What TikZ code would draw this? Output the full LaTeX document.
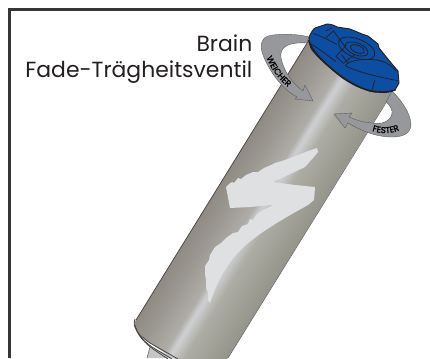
\documentclass[tikz,border=0pt]{standalone}
\usepackage{fontspec}
\setmainfont{Poppins}
\newfontfamily\arrowfont[FakeBold=1.3,LetterSpace=4]{Poppins}
\usetikzlibrary{decorations.text}
\definecolor{capblue}{HTML}{0B4EA2}
\definecolor{ink}{HTML}{231F20}
\definecolor{arrowgray}{HTML}{96989B}
\definecolor{logogray}{HTML}{DFE0E1}
\definecolor{cylA}{HTML}{8F8B84}
\definecolor{cylB}{HTML}{9C9892}
\definecolor{cylC}{HTML}{AFADA8}
\definecolor{cylD}{HTML}{CBCDCF}
\definecolor{cylE}{HTML}{AEADA5}
\definecolor{cylF}{HTML}{95948A}
\pgfdeclarehorizontalshading{cylshade}{100bp}{
 color(0bp)=(cylA);
 color(25bp)=(cylA);
 color(35bp)=(cylB);
 color(46bp)=(cylC);
 color(49bp)=(cylD);
 color(50bp)=(cylD);
 color(56bp)=(cylE);
 color(75bp)=(cylF);
 color(100bp)=(cylF)}
\tikzset{
 labeltext/.style={font=\fontsize{21.9}{24}\selectfont,text=ink,inner sep=0pt,anchor=base east},
 arrowshape/.style={fill=arrowgray,draw=ink!75,line width=0.35pt,line join=round},
 capline/.style={draw=ink,line width=0.7pt,line join=round},
 flangeline/.style={draw=ink!85,line width=0.8pt},
}
\begin{document}
\begin{tikzpicture}[x=1pt,y=-1pt]
\useasboundingbox (0,0) rectangle (430,358);
\fill[white] (0,0) rectangle (430,358);
\draw[ink!90,line width=2.6pt] (9.5,358) -- (9.5,9.5) -- (430,9.5);
\node[labeltext] (brain) at (252.5,52) {Brain};
\node[labeltext] (fade) at (252.5,78) {Fade-Trägheitsventil};

% cylinder body
\begin{scope}
 \clip (309,40) -- (134,322) .. controls (135,330) and (145,340) .. (150,343)
   -- (176,360) -- (228,360) -- (392,93) -- cycle;
 \begin{scope}[transform canvas={shift={(265.5,203.6)},rotate=-31.7}]
  \shade[shading=cylshade] (-49,-215) rectangle (49,215);
 \end{scope}
\end{scope}
\draw[ink!85,line width=0.7pt] (309,40) -- (136,320);
\draw[ink!70,line width=0.6pt] (392,93) -- (228,358);

% arrows
\path[arrowshape] (309,37) .. controls (298,34) and (280,33) .. (268,36)
  .. controls (260,39) and (260,47) .. (263,55)
  .. controls (268,68) and (280,88) .. (297,97)
  -- (295,99) -- (313,101) -- (305,85) -- (303,91)
  .. controls (293,84) and (284,72) .. (281,58)
  .. controls (279,46) and (290,42) .. (307,43) -- cycle;
\path[arrowshape] (392,91) .. controls (401,100) and (410,112) .. (411,124)
  .. controls (411,134) and (402,137) .. (392,137)
  .. controls (375,137) and (360,130) .. (348,123)
  -- (345,128) -- (334,114) -- (352,113) -- (349,117)
  .. controls (360,122) and (372,124) .. (382,123)
  .. controls (393,120) and (396,110) .. (386,102) -- cycle;

% arrow lettering
\path[decorate,decoration={text along path,text align=center,
   text={|\fontsize{8.6}{9}\arrowfont\color{black}|WEICHER}}]
   (263,46) .. controls (266,62) and (277,82) .. (298,94);
\path[decorate,decoration={text along path,text align=center,
   text={|\fontsize{8.6}{9}\arrowfont\color{black}|FESTER}}]
   (363,127) .. controls (378,135) and (394,136) .. (408,125);

% logo
\fill[logogray] (226,187) -- (229,184) -- (232,182) -- (234,183) -- (238,178) -- (241,179) -- (246,175)
  -- (253,172) -- (258,172) -- (264,168) -- (271,165) -- (275,163) -- (285,160)
  -- (298,155) -- (308,151) -- (317,148) -- (318,152) -- (313,158) -- (305,167)
  -- (288,175) -- (273,182) -- (295,185) -- (315,187) -- (314,200) -- (308,205)
  .. controls (290,215) and (270,226) .. (252,240)
  .. controls (235,253) and (220,272) .. (210,303)
  -- (208,300) -- (208,293) -- (206,288) -- (206,280) -- (205,274) -- (205,266)
  -- (209,260) -- (210,255) -- (215,247) -- (221,243) -- (226,238) -- (233,233)
  -- (238,232) -- (242,226) -- (248,224) -- (250,219) -- (253,220) -- (257,214)
  -- (263,210) -- (273,205) -- (250,207) -- (230,208) -- cycle;

% lower flange and stem
\fill[gray!45] (150,347) -- (147,358) -- (176,358) -- cycle;
\draw[ink!70,line width=0.6pt] (150,347) -- (147,358);
\draw[flangeline] (135,319) .. controls (132,326) and (137,334) .. (150,343) -- (178,359);
\draw[flangeline] (135,325) .. controls (136,332) and (142,340) .. (152,347) -- (172,359);
\draw[flangeline] (136,328) .. controls (138,336) and (146,344) .. (153,349) -- (168,359);

% blue cap
\path[fill=capblue,draw=ink,line width=0.9pt,line join=round]
 (309,37) .. controls (311,33) and (313,29) .. (315,28) -- (327,24)
 .. controls (332,24) and (335,26) .. (337,27) -- (350,29) -- (362,34) -- (368,36)
 -- (378,44) -- (379,48) -- (392,64) -- (398,71) -- (399,83) -- (395,90)
 .. controls (390,92) and (385,92) .. (380,92)
 .. controls (375,92) and (370,92) .. (367,90)
 .. controls (350,84) and (325,66) .. (312,50) .. controls (310,47) and (309,42) .. (309,37) -- cycle;
\draw[ink,line width=1.6pt,line cap=round] (309,41) .. controls (311,49) and (322,62) .. (343,78)
   .. controls (355,86) and (368,92) .. (380,92) .. controls (386,93) and (392,91) .. (395,90);
\begin{scope}[shift={(300,15)},x=0.3333pt,y=-0.3333pt]
 \draw[capline] (40,55) -- (80,72) -- (110,88);
 \draw[capline] (30,85) .. controls (55,100) and (75,115) .. (108,140);
 \draw[capline] (78,48) -- (96,38);
 \draw[capline] (78,68) -- (100,48) -- (135,95) -- (108,124);
 \draw[capline] (125,120) -- (145,145);
 \draw[capline] (108,124) -- (130,145) -- (165,118);
 \draw[capline] (135,152) .. controls (150,135) and (190,130) .. (230,135) .. controls (255,140) and (275,150) .. (288,168);
 \draw[capline] (135,152) .. controls (170,170) and (230,185) .. (293,197);
 \draw[capline] (225,195) -- (215,228);
 \draw[capline,rotate around={-22:(170,100)}] (170,100) ellipse [x radius=58,y radius=28];
 \draw[capline,rotate around={-22:(170,102)}] (170,102) ellipse [x radius=36,y radius=18];
 \draw[capline,rotate around={-22:(172,102)}] (172,102) ellipse [x radius=22,y radius=11];
\end{scope}
\end{tikzpicture}
\end{document}
